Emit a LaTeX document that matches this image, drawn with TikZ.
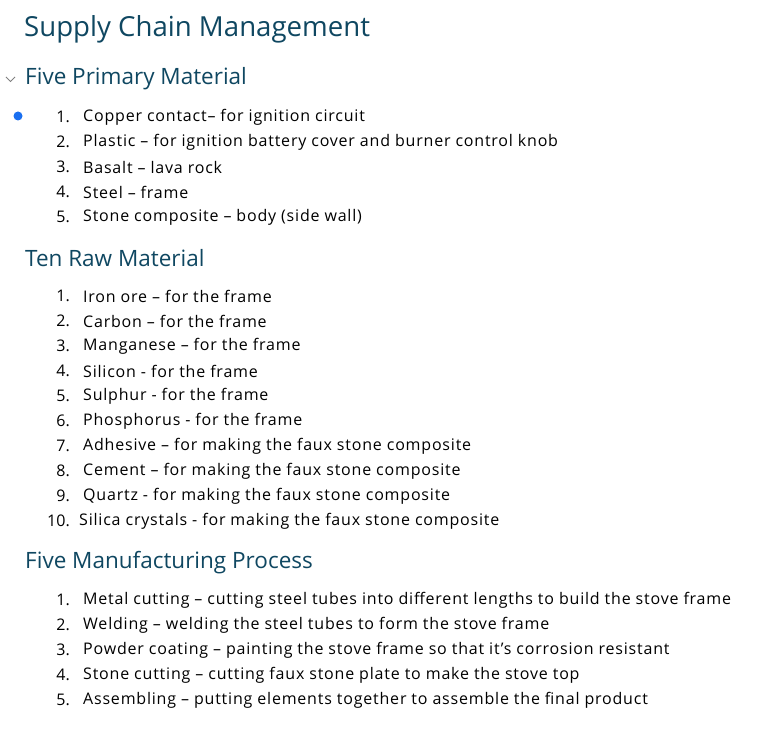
\documentclass[tikz,border=0pt]{standalone}
\usepackage{fontspec}
\setmainfont{Open Sans}
\definecolor{head}{HTML}{0F4761}
\definecolor{dot}{HTML}{1A6FF0}
\begin{document}
\begin{tikzpicture}[x=1pt,y=-1pt,
  title/.style={anchor=west,inner sep=0,text=head,font=\fontsize{27.6}{30}\selectfont},
  headA/.style={anchor=west,inner sep=0,text=head,font=\fontsize{22.5}{24}\selectfont},
  num/.style={anchor=east,inner sep=0,font=\fontsize{16}{18}\selectfont},
  item/.style={anchor=west,inner sep=0,font=\fontsize{16}{18}\selectfont\addfontfeatures{LetterSpace=5}}]
\useasboundingbox (0,0) rectangle (779,733);
\node[title] (t) at (24,29) {Supply Chain Management};
\draw[gray,line width=0.8] (6,77) -- (10.5,81.5) -- (15,77);
\node[headA] (h1) at (25,79) {Five Primary Material};
\fill[dot] (18,116) circle (4.5);
\foreach \n/\t [count=\i] in {1/Copper contact– for ignition circuit,2/Plastic – for ignition battery cover and burner control knob,3/Basalt – lava rock,4/Steel – frame,5/Stone composite – body (side wall)}
  {\node[num] (a\i n) at (70,{117+25*(\i-1)}) {\n.};
   \node[item] (a\i) at (83,{117+25*(\i-1)}) {\t};}
\node[headA] (h2) at (25,258) {Ten Raw Material};
\foreach \n/\t [count=\i] in {1/Iron ore – for the frame,2/Carbon – for the frame,3/Manganese – for the frame,4/Silicon - for the frame,5/Sulphur - for the frame,6/Phosphorus - for the frame,7/Adhesive – for making the faux stone composite,8/Cement – for making the faux stone composite,9/Quartz - for making the faux stone composite,10/Silica crystals - for making the faux stone composite}
  {\node[num] (b\i n) at (70,{296+25*(\i-1)}) {\n.};
   \node[item] (b\i) at ({\i==10 ? 79 : 83},{296+25*(\i-1)}) {\t};}
\node[headA] (h3) at (25,563) {Five Manufacturing Process};
\foreach \n/\t [count=\i] in {1/Metal cutting – cutting steel tubes into different lengths to build the stove frame,2/Welding – welding the steel tubes to form the stove frame,3/Powder coating – painting the stove frame so that it’s corrosion resistant,4/Stone cutting – cutting faux stone plate to make the stove top,5/Assembling – putting elements together to assemble the final product}
  {\node[num] (c\i n) at (70,{600+25*(\i-1)}) {\n.};
   \node[item] (c\i) at (83,{600+25*(\i-1)}) {\t};}
\end{tikzpicture}
\end{document}
